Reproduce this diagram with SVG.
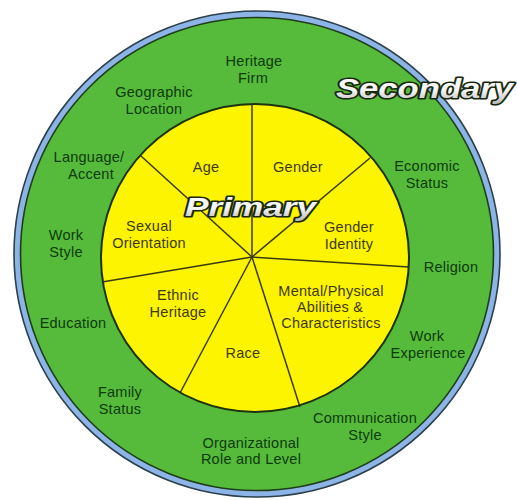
<svg xmlns="http://www.w3.org/2000/svg" width="517" height="500" viewBox="0 0 517 500">
  <defs>
    <linearGradient id="titleFill" x1="0" y1="0" x2="0" y2="1">
      <stop offset="0" stop-color="#ffffff"/>
      <stop offset="0.55" stop-color="#f4f4f4"/>
      <stop offset="1" stop-color="#b9b9b9"/>
    </linearGradient>
    <style>
      .lbl { font-family: "Liberation Sans", Arial, sans-serif; font-size: 14.5px; letter-spacing: 0.25px; text-anchor: middle; }
      .sec { fill: #0e3a0c; }
      .pri { fill: #3f3a06; }
      .title { font-family: "Liberation Sans", Arial, sans-serif; font-weight: bold; font-style: italic; fill: url(#titleFill); stroke: #18280f; stroke-width: 3.2px; stroke-linejoin: round; paint-order: stroke fill; }
      .spoke { stroke: #3b3a12; stroke-width: 1.5; fill: none; }
    </style>
  </defs>

  <rect width="517" height="500" fill="#ffffff"/>

  <!-- outer secondary ring: blue rim with dark edges, green band -->
  <g id="ring-secondary">
    <circle cx="257" cy="254" r="243" fill="#8db4e6" stroke="#2b3f4c" stroke-width="1.6"/>
    <circle cx="257" cy="254" r="236.5" fill="#56bb3a" stroke="#1e3d1a" stroke-width="1.6"/>
  </g>

  <!-- inner primary disc -->
  <g id="disc-primary">
    <circle cx="255" cy="258" r="154" fill="#fcf400"/>
  </g>

  <!-- spokes dividing the primary disc -->
  <g id="connectors">
    <line class="spoke" x1="252" y1="257" x2="252" y2="104"/>
    <line class="spoke" x1="252" y1="257" x2="141" y2="156"/>
    <line class="spoke" x1="252" y1="257" x2="370" y2="158"/>
    <line class="spoke" x1="252" y1="257" x2="102" y2="282"/>
    <line class="spoke" x1="252" y1="257" x2="409" y2="267"/>
    <line class="spoke" x1="252" y1="257" x2="180" y2="393"/>
    <line class="spoke" x1="252" y1="257" x2="300" y2="407"/>
  </g>

  <circle cx="255" cy="258" r="154" fill="none" stroke="#1c3210" stroke-width="2"/>

  <!-- primary dimensions -->
  <g id="age"><text class="lbl pri" x="206" y="172">Age</text></g>
  <g id="gender"><text class="lbl pri" x="298" y="172">Gender</text></g>
  <g id="sexual-orientation">
    <text class="lbl pri" x="149" y="231.3">Sexual</text>
    <text class="lbl pri" x="149" y="247.7">Orientation</text>
  </g>
  <g id="gender-identity">
    <text class="lbl pri" x="349" y="232.3">Gender</text>
    <text class="lbl pri" x="349" y="248.7">Identity</text>
  </g>
  <g id="ethnic-heritage">
    <text class="lbl pri" x="178" y="300.3">Ethnic</text>
    <text class="lbl pri" x="178" y="316.7">Heritage</text>
  </g>
  <g id="abilities">
    <text class="lbl pri" x="331" y="295.6">Mental/Physical</text>
    <text class="lbl pri" x="330" y="312">Abilities &amp;</text>
    <text class="lbl pri" x="331" y="328.4">Characteristics</text>
  </g>
  <g id="race"><text class="lbl pri" x="243" y="358">Race</text></g>

  <!-- secondary dimensions -->
  <g id="heritage-firm">
    <text class="lbl sec" x="254" y="66.3">Heritage</text>
    <text class="lbl sec" x="253" y="82.7">Firm</text>
  </g>
  <g id="geographic-location">
    <text class="lbl sec" x="154" y="97.3">Geographic</text>
    <text class="lbl sec" x="154" y="113.7">Location</text>
  </g>
  <g id="language-accent">
    <text class="lbl sec" x="89" y="162.3">Language/</text>
    <text class="lbl sec" x="91" y="178.7">Accent</text>
  </g>
  <g id="work-style">
    <text class="lbl sec" x="66" y="240.3">Work</text>
    <text class="lbl sec" x="66" y="256.7">Style</text>
  </g>
  <g id="education"><text class="lbl sec" x="73" y="328">Education</text></g>
  <g id="family-status">
    <text class="lbl sec" x="120" y="397.3">Family</text>
    <text class="lbl sec" x="120" y="413.7">Status</text>
  </g>
  <g id="organizational-role">
    <text class="lbl sec" x="251" y="447.8">Organizational</text>
    <text class="lbl sec" x="251" y="464.2">Role and Level</text>
  </g>
  <g id="communication-style">
    <text class="lbl sec" x="365" y="423.3">Communication</text>
    <text class="lbl sec" x="365" y="439.7">Style</text>
  </g>
  <g id="work-experience">
    <text class="lbl sec" x="427" y="341.3">Work</text>
    <text class="lbl sec" x="428" y="357.7">Experience</text>
  </g>
  <g id="religion"><text class="lbl sec" x="451" y="272">Religion</text></g>
  <g id="economic-status">
    <text class="lbl sec" x="427" y="171.3">Economic</text>
    <text class="lbl sec" x="427" y="187.7">Status</text>
  </g>

  <!-- ring titles -->
  <g id="title-primary">
    <text class="title" x="185" y="216" font-size="25" textLength="131" lengthAdjust="spacingAndGlyphs">Primary</text>
  </g>
  <g id="title-secondary">
    <text class="title" x="336" y="98" font-size="27" textLength="177" lengthAdjust="spacingAndGlyphs">Secondary</text>
  </g>
</svg>
